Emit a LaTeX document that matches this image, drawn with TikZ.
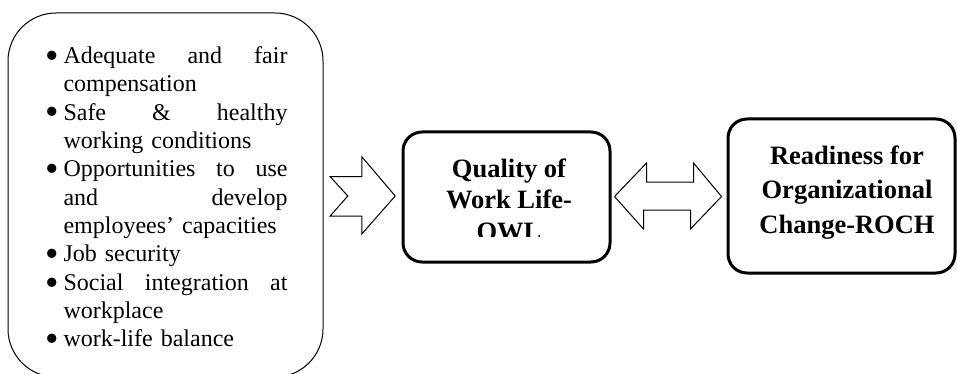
\documentclass[tikz,border=0pt]{standalone}
\usepackage{graphicx}
\usepackage{fontspec}
\setmainfont{Liberation Serif}
\usetikzlibrary{calc}
\begin{document}
\begin{tikzpicture}[x=1pt,y=-1pt,
  thinbox/.style={draw, line width=1pt, rounded corners=48pt, inner sep=0pt},
  thickbox/.style={draw, line width=3pt, rounded corners=19pt, inner sep=0pt},
  blockarrow/.style={draw, line width=1pt, line join=miter},
  listtext/.style={anchor=north west, inner sep=0pt, text width=243pt, align=left,
    font=\fontsize{24}{28.34}\selectfont},
  boldtext/.style={anchor=north, inner sep=0pt, align=center}
]
\useasboundingbox (0,0) rectangle (957,374);

% boxes
\node[thinbox, minimum width=315pt, minimum height=364pt] (factors) at (165.5,195) {};
\node[thickbox, minimum width=207pt, minimum height=130pt] (qwl) at (506.5,197) {};
\node[thickbox, minimum width=227pt, minimum height=154pt] (roch) at (841.5,196) {};

% list of factors
\newcommand{\bul}{\makebox[18.3pt][l]{\smash{\raisebox{-4.8pt}{\scalebox{1.6}{\textbullet}}}}}
\newcommand{\ind}{\makebox[18.3pt][l]{}}
\node[listtext] (list) at (45,43.3) {\noindent
\bul\makebox[224pt][s]{\rule{0pt}{20pt}Adequate\hfill and\hfill fair}\\
\ind compensation\\
\bul\makebox[224pt][s]{Safe\hfill \&\hfill healthy}\\
\ind working conditions\\
\bul\makebox[224pt][s]{Opportunities\hfill to\hfill use}\\
\ind\makebox[224pt][s]{and\hfill develop}\\
\ind employees’ capacities\\
\bul Job security\\
\bul\makebox[224pt][s]{Social\hfill integration\hfill at}\\
\ind workplace\\
\bul work-life balance};

% texts of the two main boxes
\begin{scope}
  \clip (403,132) rectangle (610,236);
  \node[boldtext, font=\bfseries\fontsize{26.5}{31.7}\selectfont] (qwltext) at (509,157)
    {\rule{0pt}{20pt}Quality of\\Work Life-\\QWL};
\end{scope}
\node[boldtext, font=\bfseries\fontsize{26.5}{34.7}\selectfont] (rochtext) at (847,144)
  {\rule{0pt}{20pt}Readiness for\\Organizational\\Change-ROCH};

% chevron arrow from factors to QWL
\coordinate (c1) at ($(qwl.west)+(-6.3,-1)$);
\draw[blockarrow] (c1) -- ++(-33.4,38) -- ++(0,-18) -- ++(-31.6,0) -- ++(17.6,-20)
  -- ++(-17.6,-19.3) -- ++(31.6,0) -- ++(0,-20) -- cycle;

% double arrow between QWL and ROCH
\coordinate (d1) at ($(qwl.east)+(3,-0.5)$);
\coordinate (d2) at ($(roch.west)+(-5,0.5)$);
\draw[blockarrow] (d1) -- ++(32,-33.5) -- ++(0,19) -- ++(47,0) -- ++(0,-19)
  -- (d2) -- ++(-31,32.5) -- ++(0,-19) -- ++(-47,0) -- ++(0,19) -- cycle;
\end{tikzpicture}
\end{document}
